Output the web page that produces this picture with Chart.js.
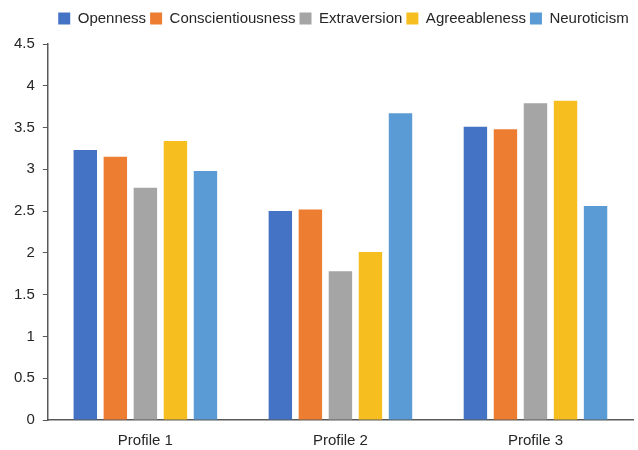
<!DOCTYPE html>
<html>
<head>
<meta charset="utf-8">
<script src="https://cdn.jsdelivr.net/npm/chart.js@4/dist/chart.umd.min.js"></script>
<style>
    body { margin: 0; background: #fff; }
    #wrap { width: 638px; height: 450px; }
</style>
</head>
<body>
<div id="wrap"><canvas id="profile-chart"></canvas></div>
<script>
const profiles = ['Profile 1', 'Profile 2', 'Profile 3'];
const openness = [3.23, 2.50, 3.51];
const conscientiousness = [3.15, 2.52, 3.48];
const extraversion = [2.78, 1.78, 3.79];
const agreeableness = [3.34, 2.01, 3.82];
const neuroticism = [2.98, 3.67, 2.56];
const yTicks = [0, 0.5, 1, 1.5, 2, 2.5, 3, 3.5, 4, 4.5];

// nới khoảng cách dưới chú thích, canh giữa theo vùng vẽ
const legendGap = {
    id: 'legendGap',
    beforeInit(chart) {
        const fit = chart.legend.fit;
        chart.legend.fit = function () {
            fit.bind(chart.legend)();
            this.height += 8;
        };
    },
    afterLayout(chart) {
        const lg = chart.legend;
        const area = chart.chartArea;
        const shift = (area.left + area.right) / 2 - (lg.left + lg.right) / 2 + 3;
        lg.left += shift;
        lg.right += shift;
    }
};

main();

function main() {
    Chart.defaults.font.family = '"Liberation Sans", Arial, sans-serif';
    Chart.defaults.font.size = 15;
    Chart.defaults.color = '#262626';
    profileChart();
}

// Biểu đồ cột theo hồ sơ
function profileChart() {
    const ctx = document.getElementById('profile-chart');
    new Chart(ctx, {
        type: 'bar',
        data: {
            labels: profiles,
            datasets: [
                { label: 'Openness', data: openness, backgroundColor: '#4472C4' },
                { label: 'Conscientiousness', data: conscientiousness, backgroundColor: '#ED7D31' },
                { label: 'Extraversion', data: extraversion, backgroundColor: '#A5A5A5' },
                { label: 'Agreeableness', data: agreeableness, backgroundColor: '#F6BE1E' },
                { label: 'Neuroticism', data: neuroticism, backgroundColor: '#5B9BD5' },
            ],
        },
        plugins: [legendGap],
        options: {
            responsive: true,
            maintainAspectRatio: false,
            animation: false,
            categoryPercentage: 0.77,
            barPercentage: 0.78,
            layout: { padding: { left: 6, right: 5, top: 7, bottom: 0 } },
            plugins: {
                legend: {
                    position: 'top',
                    labels: { boxWidth: 12, boxHeight: 12, padding: 4, color: '#262626' },
                },
                tooltip: { enabled: false },
            },
            scales: {
                x: {
                    grid: { display: false, drawTicks: false },
                    border: { display: true, color: '#595959', width: 1.5 },
                    ticks: { padding: 12, color: '#262626' },
                    afterFit: (scale) => { scale.height = 30; },
                },
                y: {
                    min: 0,
                    max: 4.5,
                    afterBuildTicks: (axis) => {
                        axis.ticks = yTicks.map(v => ({ value: v }));
                    },
                    grid: { drawOnChartArea: false, tickLength: 5, color: '#595959' },
                    border: { display: true, color: '#595959', width: 1.5 },
                    ticks: {
                        padding: 8,
                        color: '#262626',
                        callback: (v) => String(v),
                    },
                },
            },
        },
    });
}
</script>
</body>
</html>
